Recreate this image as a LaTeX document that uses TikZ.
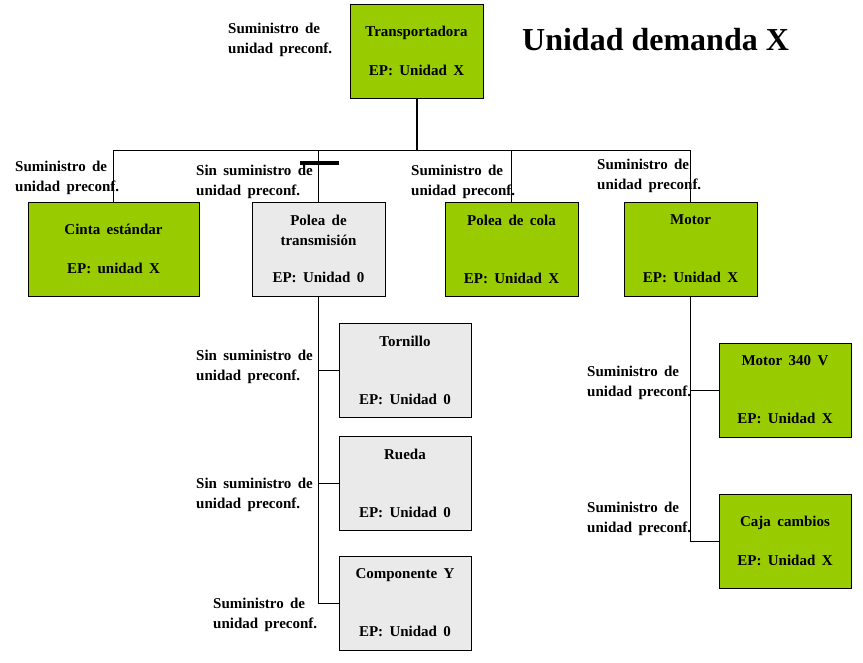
\documentclass[tikz,border=0pt]{standalone}
\usepackage{fontspec}
\setmainfont[WordSpace=1.7]{Liberation Serif}
\newfontfamily\titulofont{Liberation Serif}
\usetikzlibrary{calc}
\definecolor{verde}{RGB}{153,204,0}
\definecolor{gris}{RGB}{234,234,234}
\tikzset{
	caja/.style={draw=black, line width=0.8pt, minimum width=133pt, minimum height=94pt, align=center, inner sep=0pt, font=\bfseries\fontsize{15}{20}\selectfont},
	cajaverde/.style={caja, fill=verde},
	cajagris/.style={caja, fill=gris},
	etiqueta/.style={anchor=north west, align=left, inner sep=0pt, font=\bfseries\fontsize{15}{20}\selectfont},
	linea/.style={line width=0.8pt}
}

\begin{document}
\begin{tikzpicture}[x=1pt,y=-1pt]
				\useasboundingbox (0,0) rectangle (863,662);
				
				\node[etiqueta] (titulo) at (522,28) {\titulofont\bfseries\fontsize{32}{36}\selectfont Unidad demanda X};
				
				\node[cajaverde] (tra) at (416.5,51) {Transportadora\\[19pt]EP: Unidad X};
				\node[etiqueta] (etra) at (228,23) {Suministro de\\unidad preconf.};
				
				\node[cajaverde, minimum width=171pt] (cin) at (113.5,249) {Cinta estándar\\[19pt]EP: unidad X};
				\node[cajagris] (pdt) at (318.5,249) {Polea de\\transmisión\\[17pt]EP: Unidad 0};
				\node[cajaverde] (pdc) at (511.5,249) {Polea de cola\\[38pt]EP: Unidad X};
				\node[cajaverde] (mot) at (690.5,249) {Motor\\[38pt]EP: Unidad X};
				
				\node[etiqueta] (ecin) at (15,161) {Suministro de\\unidad preconf.};
				\node[etiqueta] (epdt) at (196,165) {Sin suministro de\\unidad preconf.};
				\node[etiqueta] (epdc) at (411,165) {Suministro de\\unidad preconf.};
				\node[etiqueta] (emot) at (597,159) {Suministro de\\unidad preconf.};
				
				\coordinate (bus) at (416.5,150);
				\draw[line width=2pt] (tra.south) -- (bus);
				\draw[linea] (cin.north) |- (bus);
				\draw[linea] (mot.north) |- (bus);
				\draw[linea] (pdt.north) -- (pdt.north |- bus);
				\draw[linea] (pdc.north) -- (pdc.north |- bus);
				\draw[line width=4.5pt] (300,163) -- (339,163);
				
				\node[cajagris, minimum width=132pt] (tor) at (405,370.5) {Tornillo\\[38pt]EP: Unidad 0};
				\node[cajagris, minimum width=132pt] (rue) at (405,483) {Rueda\\[38pt]EP: Unidad 0};
				\node[cajagris, minimum width=132pt] (com) at (405,603) {Componente Y\\[38pt]EP: Unidad 0};
				\draw[linea] (pdt.south) |- (com.west);
				\draw[linea] (tor.west) -- (tor.west -| pdt.south);
				\draw[linea] (rue.west) -- (rue.west -| pdt.south);
				
				\node[etiqueta] (etor) at (196,350) {Sin suministro de\\unidad preconf.};
				\node[etiqueta] (erue) at (196,478) {Sin suministro de\\unidad preconf.};
				\node[etiqueta] (ecom) at (213,598) {Suministro de\\unidad preconf.};
				
				\node[cajaverde, minimum width=132pt] (m34) at (785,390) {Motor 340 V\\[38pt]EP: Unidad X};
				\node[cajaverde, minimum width=132pt] (caj) at (785,541) {Caja cambios\\[19pt]EP: Unidad X};
				\draw[linea] (mot.south) |- (caj.west);
				\draw[linea] (m34.west) -- (m34.west -| mot.south);
				
				\node[etiqueta] (em34) at (587,366) {Suministro de\\unidad preconf.};
				\node[etiqueta] (ecaj) at (587,502) {Suministro de\\unidad preconf.};
\end{tikzpicture}
\end{document}
